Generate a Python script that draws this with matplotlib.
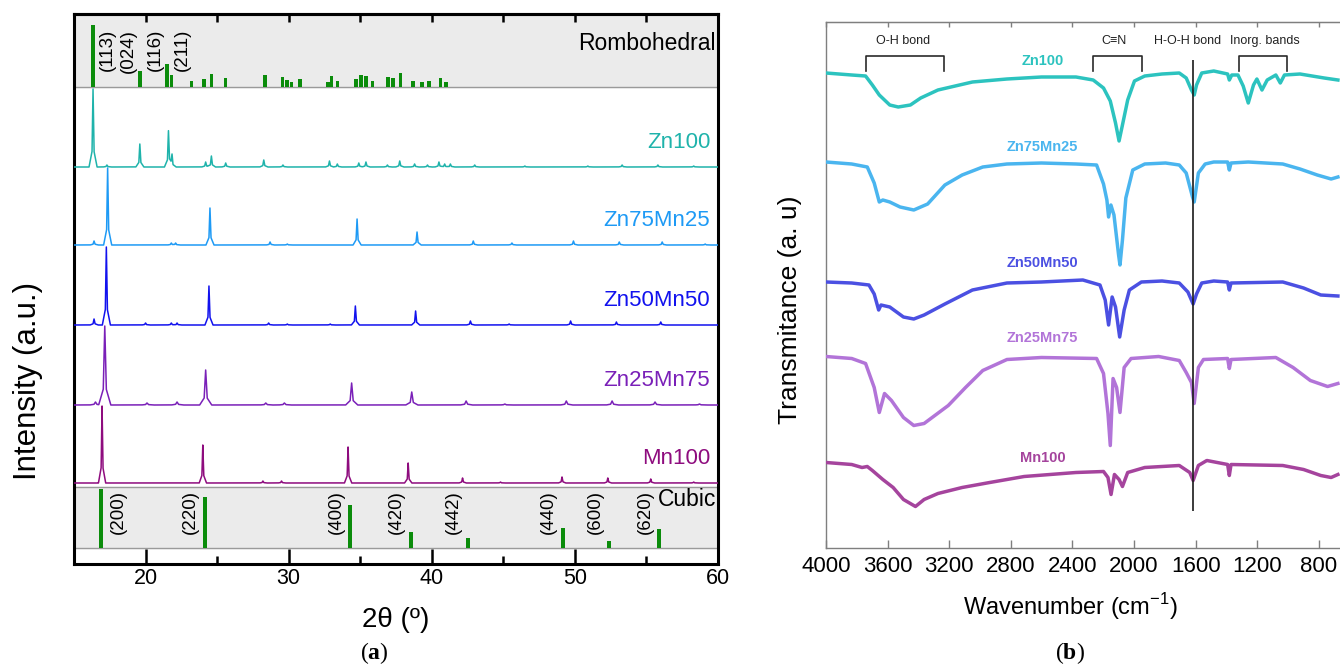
import numpy as np
import matplotlib.pyplot as plt

# ---------------- (a) XRD ----------------
samples = ['Zn100', 'Zn75Mn25', 'Zn50Mn50', 'Zn25Mn75', 'Mn100']

zn100_pos = [16.33, 17.3, 19.6, 21.6, 21.85, 24.2, 24.6, 25.6, 28.26, 29.6, 32.85, 33.4,
             34.9, 35.4, 36.9, 37.76, 38.8, 39.7, 40.5, 40.9, 41.3, 43.0, 46.5, 50.9,
             53.3, 55.8, 58.3]
zn100_int = [78, 2, 23, 36, 12, 5, 11, 4, 7, 2, 6, 3, 4, 5, 2, 6, 3, 2, 5, 3, 3, 2, 1, 1,
             2, 2, 1]

zn75_pos = [16.4, 17.35, 21.8, 22.1, 24.5, 28.7, 29.9, 34.78, 38.97, 42.9, 45.6, 49.9,
            53.1, 56.1, 59.1]
zn75_int = [4, 77, 2, 2, 37, 3, 1, 26, 13, 4, 2, 4, 3, 3, 1]

zn50_pos = [16.4, 17.26, 20.0, 21.8, 22.2, 24.43, 28.6, 29.9, 32.9, 34.66, 38.87, 42.7,
            45.4, 49.7, 52.9, 56.0]
zn50_int = [6, 78, 2, 2, 2, 39, 2, 1, 1, 19, 14, 4, 1, 4, 3, 3]

zn25_pos = [16.5, 17.15, 20.1, 22.2, 24.2, 28.4, 29.7, 34.4, 38.6, 42.4, 45.1, 49.4,
            52.6, 55.6, 58.7]
zn25_int = [3, 79, 2, 3, 35, 2, 2, 22, 13, 4, 1, 4, 4, 3, 1]

mn100_pos = [16.96, 24.0, 28.2, 29.5, 34.15, 38.35, 42.15, 44.8, 49.1, 52.3, 55.3, 58.3]
mn100_int = [77, 38, 2, 2, 36, 20, 5, 1, 6, 5, 4, 1]

# reference patterns
rhombo_pos = [16.33, 19.63, 21.5, 21.8, 23.2, 24.1, 24.6, 25.6, 28.35, 29.57, 29.9, 30.2,
              30.8, 32.75, 33.0, 33.4, 34.7, 35.05, 35.4, 35.85, 36.95, 37.3, 37.8, 38.7,
              39.3, 39.8, 40.6, 41.0]
rhombo_int = [62, 16, 23, 12, 6, 8, 13, 9, 12, 10, 7, 5, 8, 5, 11, 6, 8, 12, 11, 6, 10, 9,
              14, 6, 5, 6, 9, 5]
rhombo_hkl = ['(113)', '(024)', '(116)', '(211)']

cubic_pos = [16.92, 24.13, 34.3, 38.55, 42.5, 49.16, 52.4, 55.9]
cubic_int = [59, 51, 43, 16, 10, 20, 7, 19]
cubic_hkl = ['(200)', '(220)', '(400)', '(420)', '(442)', '(440)', '(600)', '(620)']

# ---------------- (b) FTIR ----------------
ir_zn100_w = [4000, 3833, 3743, 3699, 3654, 3586, 3531, 3452, 3385, 3273, 3161, 3049, 2825,
              2601, 2377, 2265, 2198, 2154, 2120, 2097, 2075, 2041, 1997, 1930, 1818, 1706,
              1661, 1627, 1609, 1594, 1560, 1482, 1392, 1381, 1365, 1325, 1291, 1258, 1224,
              1202, 1169, 1135, 1079, 1050, 1023, 922, 765, 676]
ir_zn100_t = [0, -2, -3, -12, -22, -32, -34, -32, -25, -17, -13, -9, -6, -4, -4, -7, -15,
              -28, -50, -68, -52, -27, -8, -3, -1, 0, -5, -17, -22, -12, 0, 2, -1, -7, -2,
              -2, -13, -30, -12, -6, -17, -7, -2, -10, -2, -1, -5, -7]

ir_zn75_w = [4000, 3833, 3732, 3687, 3654, 3631, 3586, 3519, 3430, 3340, 3228, 3116, 2982,
             2825, 2601, 2377, 2243, 2198, 2176, 2165, 2150, 2130, 2100, 2091, 2075, 2053,
             2008, 1930, 1795, 1706, 1661, 1620, 1609, 1582, 1538, 1482, 1392, 1381, 1370,
             1258, 1034, 922, 810, 720, 676]
ir_zn75_t = [0, -2, -5, -21, -40, -38, -40, -45, -48, -42, -23, -13, -5, -2, -1, -2, -3,
             -22, -38, -55, -43, -53, -93, -103, -78, -36, -8, -2, -1, -3, -11, -35, -40,
             -11, -2, 0, 0, -8, -1, 0, -2, -7, -13, -17, -15]

ir_zn50_w = [4000, 3833, 3721, 3687, 3658, 3643, 3586, 3497, 3430, 3363, 3228, 3049, 2825,
             2601, 2332, 2221, 2187, 2165, 2142, 2120, 2093, 2064, 2030, 1952, 1818, 1706,
             1650, 1616, 1594, 1560, 1482, 1392, 1381, 1370, 1034, 899, 787, 676]
ir_zn50_t = [0, -1, -3, -12, -28, -23, -25, -35, -37, -33, -22, -8, -1, 0, 2, -3, -18,
             -43, -15, -25, -55, -28, -8, 0, 1, -1, -10, -22, -12, -1, 1, 0, -8, -1, 0, -6,
             -13, -14]

ir_zn25_w = [4000, 3833, 3743, 3687, 3654, 3620, 3575, 3497, 3430, 3363, 3206, 3094, 2982,
             2825, 2601, 2243, 2198, 2169, 2154, 2136, 2113, 2091, 2064, 2019, 1840, 1706,
             1661, 1627, 1609, 1582, 1549, 1392, 1381, 1370, 1079, 967, 855, 743, 676]
ir_zn25_t = [0, -2, -7, -31, -56, -37, -44, -61, -69, -67, -49, -31, -14, -3, -1, -2, -17,
             -57, -89, -22, -31, -56, -11, -2, 0, -4, -16, -26, -47, -11, -3, -2, -12, -3,
             -1, -11, -24, -30, -27]

ir_mn100_w = [4000, 3833, 3766, 3732, 3699, 3631, 3564, 3497, 3419, 3363, 3273, 3116, 2937,
              2713, 2377, 2198, 2169, 2149, 2127, 2097, 2075, 2041, 1930, 1706, 1638, 1616,
              1582, 1527, 1392, 1381, 1370, 1034, 899, 787, 720, 676]
ir_mn100_t = [0, -2, -5, -4, -8, -17, -25, -37, -44, -37, -31, -25, -20, -14, -10, -9, -15,
              -32, -12, -17, -24, -10, -5, -3, -10, -18, -3, 2, -2, -13, -2, -3, -7, -13,
              -15, -12]

ir_bands = ['O-H bond', 'C\u2261N', 'H-O-H bond', 'Inorg. bands']


def xrd_trace(x, pos, inten, scale):

    # narrow peak drawn through base, shoulder and top of each read reflection
    y = np.zeros_like(x)
    for c, h in zip(pos, inten):
        nodes = [c - 0.28*scale, c - 0.07*scale, c, c + 0.07*scale, c + 0.28*scale]
        y += np.interp(x, nodes, [0, 0.2*h, h, 0.2*h, 0])
    return y


def plot_xrd(fig):

    ax = fig.add_axes([74/1340, 1 - 564/668, 644/1340, 550/668])
    ax.set_xlim(15, 60)
    ax.set_ylim(0, 550)

    green = '#0b8c0b'
    band = '#ebebeb'
    edge = '#9a9a9a'

    #reference bands
    ax.axhspan(477, 550, color=band, zorder=0)
    ax.axhspan(16, 77, color=band, zorder=0)
    for yy in (477, 77, 16):
        ax.axhline(yy, color=edge, lw=1.0, zorder=1)

    ax.bar(rhombo_pos, rhombo_int, width=0.25, bottom=477, color=green, zorder=2)
    ax.bar(cubic_pos, cubic_int, width=0.28, bottom=16, color=green, zorder=2)

    for lab, xx in zip(rhombo_hkl, [17.35, 18.8, 20.7, 22.6]):
        ax.text(xx, 535, lab, rotation=90, ha='center', va='top', size=13.5)
    for i, (lab, xx) in enumerate(zip(cubic_hkl, cubic_pos)):
        dx = 1.15 if i == 0 else -1.0
        ax.text(xx + dx, 74, lab, rotation=90, ha='center', va='top', size=13.5)

    ax.text(59.85, 521, 'Rombohedral', ha='right', va='center', size=16.5)
    ax.text(59.85, 64, 'Cubic', ha='right', va='center', size=16.5)

    #sample patterns
    x = np.linspace(15, 60, 9001)
    data = [(zn100_pos, zn100_int), (zn75_pos, zn75_int), (zn50_pos, zn50_int),
            (zn25_pos, zn25_int), (mn100_pos, mn100_int)]
    colors = ['#1fb3ab', '#1e9af5', '#1212ee', '#7a20b8', '#8e0c7e']
    offsets = [397, 319, 239, 159, 81]
    widths = [1.0, 1.0, 1.0, 1.5, 0.9]
    for name, (p, h), c, off, w in zip(samples, data, colors, offsets, widths):
        ax.plot(x, off + xrd_trace(x, p, h, w), color=c, lw=1.1, zorder=3)
        ax.text(59.45, off + 25, name, color=c, ha='right', va='center', size=16)

    #frame and ticks
    for s in ax.spines.values():
        s.set_linewidth(2.2)
    ax.set_yticks([])
    ax.set_xticks([20, 30, 40, 50, 60])
    ax.set_xticks([25, 35, 45, 55], minor=True)
    ax.tick_params(axis='x', which='major', direction='in', length=11, width=1.8,
                   labelsize=15.5, pad=3)
    ax.tick_params(axis='x', which='minor', direction='in', length=5.5, width=1.8)
    top = ax.secondary_xaxis('top')
    top.set_xticks(np.arange(20, 60, 5))
    top.tick_params(direction='in', length=5.5, width=1.8, labeltop=False)
    top.spines['top'].set_linewidth(2.2)

    fig.text(396/1340, 1 - 620/668, '2\u03b8 (\u00ba)', ha='center', va='center', size=20)
    fig.text(28/1340, 1 - 381/668, 'Intensity (a.u.)', rotation=90, ha='center',
             va='center', size=22.5)
    fig.text(374/1340, 1 - 653/668, r'($\mathbf{a}$)', ha='center', va='center',
             size=17, family='Liberation Serif')


def plot_ftir(fig):

    # axis runs 4000 -> 400, the right end falls outside the figure
    ax = fig.add_axes([826/1340, 1 - 548/668, 554.4/1340, 526/668])
    ax.set_xlim(4000, 400)
    ax.set_ylim(0, 526)

    data = [(ir_zn100_w, ir_zn100_t), (ir_zn75_w, ir_zn75_t), (ir_zn50_w, ir_zn50_t),
            (ir_zn25_w, ir_zn25_t), (ir_mn100_w, ir_mn100_t)]
    colors = ['#2cc3bf', '#4ab5ef', '#4b50e2', '#b274d8', '#a5449d']
    offsets = [475, 386, 266, 191.5, 85.5]
    label_y = [487, 401, 285, 210, 90.5]
    for name, (w, t), c, off, ly in zip(samples, data, colors, offsets, label_y):
        ax.plot(w, off + np.array(t), color=c, lw=2.5, solid_joinstyle='round', zorder=3)
        ax.text(2594, ly, name, color=c, ha='center', va='center', size=10.5,
                fontweight='bold')

    #band assignments
    ax.vlines(1616, 37, 488, color='#1a1a1a', lw=1.2, zorder=4)
    brackets = [(3743, 3233), (2265, 1947), (1320, 1005)]
    for wl, wr in brackets:
        ax.plot([wl, wl, wr, wr], [477, 492, 492, 477], color='#2a2a2a', lw=1.2)
    for lab, xx in zip(ir_bands, [3497, 2131, 1652, 1150]):
        ax.text(xx, 507, lab, ha='center', va='center', size=9, color='#222222',
                family=['Liberation Sans', 'DejaVu Sans'])

    for s in ax.spines.values():
        s.set_color('#7f7f7f')
        s.set_linewidth(1.0)
    ax.set_yticks([])
    # the 400 label would sit outside the visible part
    ax.set_xticks(np.arange(4000, 799, -400))
    ax.tick_params(axis='x', direction='in', length=6, width=1.0, color='#7f7f7f',
                   labelsize=16, pad=6)
    top = ax.secondary_xaxis('top')
    top.set_xticks(np.arange(4000, 799, -400))
    top.tick_params(direction='in', length=3.5, width=1.0, color='#7f7f7f', labeltop=False)
    top.spines['top'].set_color('#7f7f7f')

    fig.text(1070/1340, 1 - 607/668, r'Wavenumber (cm$^{-1}$)', ha='center', va='center',
             size=17)
    fig.text(790/1340, 1 - 310/668, 'Transmitance (a. u)', rotation=90, ha='center',
             va='center', size=19)
    fig.text(1070/1340, 1 - 653/668, r'($\mathbf{b}$)', ha='center', va='center',
             size=17, family='Liberation Serif')


def main():
    plt.rcParams['font.family'] = ['Liberation Sans', 'DejaVu Sans']
    plt.rcParams['mathtext.fontset'] = 'custom'
    plt.rcParams['mathtext.rm'] = 'Liberation Sans'
    plt.rcParams['mathtext.bf'] = 'Liberation Serif:bold'

    fig = plt.figure(figsize=(13.4, 6.68), dpi=100)
    plot_xrd(fig)
    plot_ftir(fig)
    fig.savefig('out.png', dpi=100)


if __name__ == "__main__":
    main()
